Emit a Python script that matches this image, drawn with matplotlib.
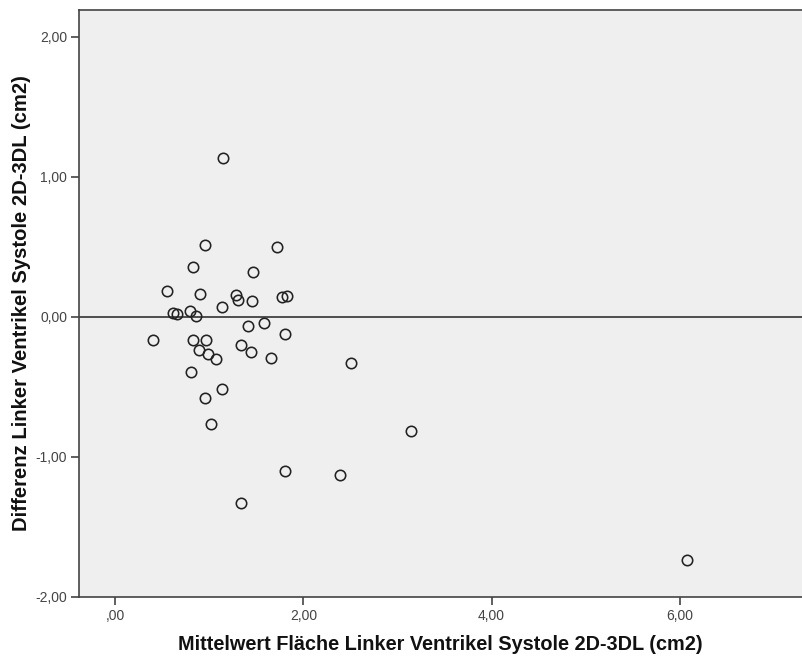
import matplotlib
matplotlib.use("Agg")
import matplotlib.pyplot as plt

plt.rcParams['font.family'] = ['Liberation Sans', 'DejaVu Sans']

mean_area = [1.15, 0.953, 1.724, 0.830, 1.462, 0.546, 0.904, 1.279, 1.310, 1.459,
             1.774, 1.830, 1.137, 0.613, 0.656, 0.794, 0.857,
             1.409, 1.579, 1.802, 0.398, 0.822, 0.960, 0.886, 0.981, 1.074,
             1.335, 1.438, 1.657, 0.804, 1.137, 0.957, 1.021, 1.809,
             2.51, 3.146, 2.385, 1.332, 6.074]
diff_area = [1.136, 0.514, 0.50, 0.352, 0.319, 0.181, 0.162, 0.157, 0.117, 0.112,
             0.141, 0.148, 0.069, 0.024, 0.019, 0.041, 0.007,
             -0.069, -0.045, -0.121, -0.169, -0.167, -0.169, -0.236, -0.264, -0.302,
             -0.198, -0.252, -0.291, -0.393, -0.514, -0.576, -0.764, -1.10,
             -0.329, -0.814, -1.129, -1.329, -1.736]

x_ticks = [0, 2, 4, 6]
x_ticklabels = [",00", "2,00", "4,00", "6,00"]
y_ticks = [-2, -1, 0, 1, 2]
y_ticklabels = ["-2,00", "-1,00", "0,00", "1,00", "2,00"]

W, H = 802, 657
fig = plt.figure(figsize=(W / 100, H / 100), dpi=100)
ax = fig.add_axes([79 / W, 1 - 597 / H, 1 - 79 / W, (597 - 10) / H])
ax.set_facecolor('#efefef')

ax.axhline(0, color='#222222', lw=1.1, zorder=1)
ax.plot(mean_area, diff_area, 'o', ms=7.5, mfc='none', mec='#222222', mew=1.15, zorder=3)

ax.set_xlim(-0.385, 7.3)
ax.set_ylim(-2.0, 2.19)
ax.set_xticks(x_ticks)
ax.set_xticklabels(x_ticklabels)
ax.set_yticks(y_ticks)
ax.set_yticklabels(y_ticklabels)

for s in ['left', 'bottom', 'top']:
    ax.spines[s].set_color('#444444')
    ax.spines[s].set_linewidth(1.2)
ax.spines['right'].set_visible(False)

ax.tick_params(axis='both', direction='out', length=6, width=1.2, color='#444444',
               labelcolor='#444444', labelsize=10, pad=2.5)

ax.set_xlabel("Mittelwert Fläche Linker Ventrikel Systole 2D-3DL (cm2)",
              fontsize=14.3, fontweight='bold', color='#111111', labelpad=9)
ax.set_ylabel("Differenz Linker Ventrikel Systole 2D-3DL (cm2)",
              fontsize=14.6, fontweight='bold', color='#111111', labelpad=3)

fig.savefig("out.png", dpi=100)
